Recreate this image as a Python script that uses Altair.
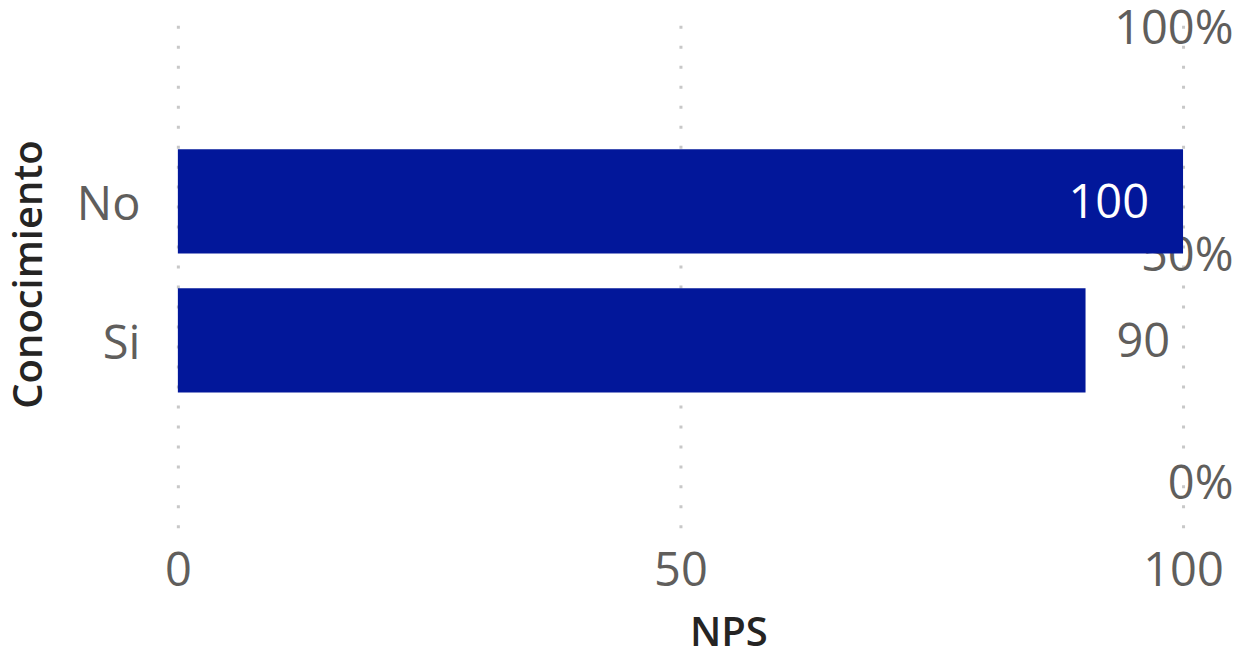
import altair as alt
import pandas as pd

categories = ["No", "Si"]
nps_values = [100, 90.3]
nps_labels = ["100", "90"]
pct_ticks = [0, 0.5, 1]

FONT = "Open Sans"
BAR = "#02179A"
LABEL = "#605E5C"
TITLE = "#252423"

df = pd.DataFrame({"Conocimiento": categories, "NPS": nps_values, "label": nps_labels})
pct_df = pd.DataFrame({"pct": pct_ticks})

x_enc = alt.X(
    "NPS:Q",
    scale=alt.Scale(domain=[0, 100], nice=False),
    axis=alt.Axis(
        values=[0, 50, 100], title="NPS", grid=True, gridDash=[3, 17], gridColor="#C8C8C8",
        gridWidth=3, domain=False, ticks=False, labelFontSize=47, labelColor=LABEL, labelFont=FONT,
        labelFlush=False, labelPadding=58, labelBaseline="alphabetic", titleFont=FONT,
        titleFontSize=40, titleColor=TITLE, titleFontWeight=600, titleX=551, titleY=118,
        titleBaseline="alphabetic",
    ),
)
y_enc = alt.Y(
    "Conocimiento:N",
    sort=categories,
    scale=alt.Scale(paddingInner=0.25, paddingOuter=0.95, align=0.488),
    axis=alt.Axis(
        title="Conocimiento", domain=False, ticks=False, labelFontSize=47, labelColor=LABEL,
        labelFont=FONT, labelPadding=38, labelOffset=5, titleFont=FONT, titleFontSize=40,
        titleColor=TITLE, titleFontWeight=600, titleX=-136, titleBaseline="alphabetic",
    ),
)

base = alt.Chart(df)
bars = base.mark_bar(color=BAR).encode(x=x_enc, y=y_enc)
inside = base.transform_filter("datum.NPS >= 95").mark_text(
    align="right", dx=-34, dy=3, baseline="middle", color="white", fontSize=47, font=FONT
).encode(x="NPS:Q", y=alt.Y("Conocimiento:N", sort=categories), text="label:N")
outside = base.transform_filter("datum.NPS < 95").mark_text(
    align="left", dx=31, dy=3, baseline="middle", color=LABEL, fontSize=47, font=FONT
).encode(x="NPS:Q", y=alt.Y("Conocimiento:N", sort=categories), text="label:N")

main = alt.layer(bars, inside, outside)

right = alt.Chart(pct_df).mark_point(opacity=0).encode(
    y=alt.Y(
        "pct:Q",
        scale=alt.Scale(domain=[-0.095, 1.02], nice=False, zero=False),
        axis=alt.Axis(
            orient="right", values=pct_ticks, format=".0%", title=None, grid=False, domain=False,
            ticks=False, labelAlign="right", labelPadding=50, labelFontSize=47, labelColor=LABEL,
            labelFont=FONT, labelBaseline="middle",
        ),
    )
)

chart = alt.layer(right, main).resolve_scale(y="independent").properties(
    width=1006, height=508,
    autosize=alt.AutoSizeParams(type="none"),
    padding={"left": 170, "top": 12, "right": 50, "bottom": 122},
).configure_view(stroke=None)

chart.save("out.html", embed_options={"renderer": "svg", "actions": False})
